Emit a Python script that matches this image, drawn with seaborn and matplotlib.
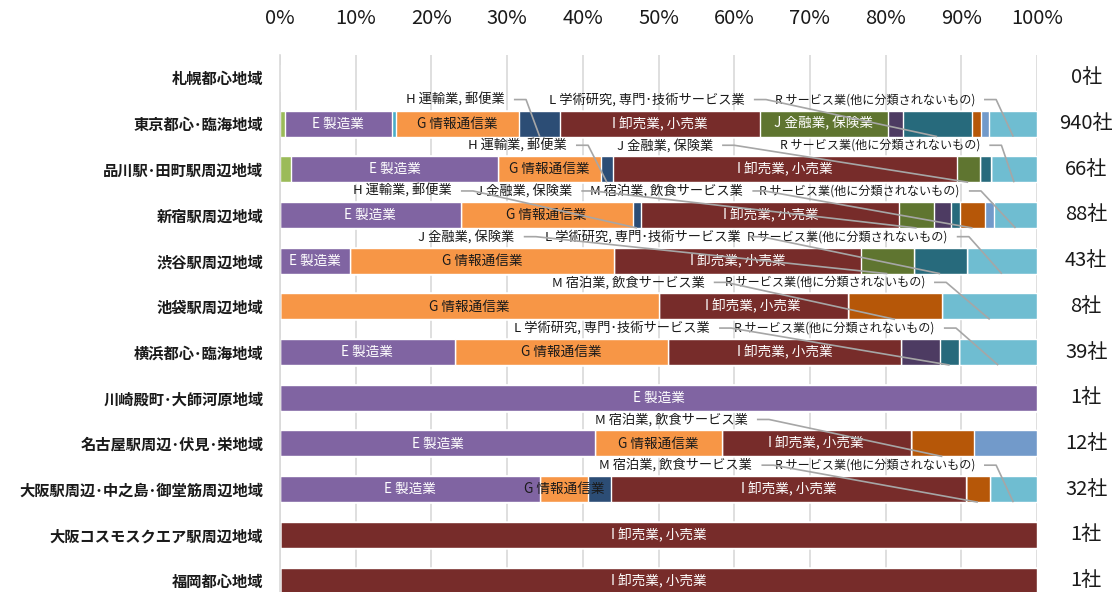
import numpy as np
import pandas as pd
import matplotlib
matplotlib.use("Agg")
import matplotlib.pyplot as plt
import seaborn as sns

sns.set_theme(style="white")
plt.rcParams["font.family"] = ["Noto Sans CJK JP", "DejaVu Sans"]

# ---- data: number of companies by region and industry ----
regions = [
    "札幌都心地域",
    "東京都心･臨海地域",
    "品川駅･田町駅周辺地域",
    "新宿駅周辺地域",
    "渋谷駅周辺地域",
    "池袋駅周辺地域",
    "横浜都心･臨海地域",
    "川崎殿町･大師河原地域",
    "名古屋駅周辺･伏見･栄地域",
    "大阪駅周辺･中之島･御堂筋周辺地域",
    "大阪コスモスクエア駅周辺地域",
    "福岡都心地域",
]

industries = [
    "D 建設業",
    "E 製造業",
    "F 電気･ガス･熱供給･水道業",
    "G 情報通信業",
    "H 運輸業, 郵便業",
    "I 卸売業, 小売業",
    "J 金融業, 保険業",
    "K 不動産業, 物品賃貸業",
    "L 学術研究, 専門･技術サービス業",
    "M 宿泊業, 飲食サービス業",
    "N 生活関連サービス業, 娯楽業",
    "R サービス業(他に分類されないもの)",
]

#                 D    E   F    G   H    I    J   K   L   M   N   R
sapporo      = [  0,   0, 0,   0,  0,   0,   0,  0,  0,  0,  0,  0]
tokyo        = [  6, 133, 5, 153, 51, 248, 159, 18, 86, 12, 10, 59]
shinagawa    = [  1,  18, 0,   9,  1,  30,   2,  0,  1,  0,  0,  4]
shinjuku     = [  0,  21, 0,  20,  1,  30,   4,  2,  1,  3,  1,  5]
shibuya      = [  0,   4, 0,  15,  0,  14,   3,  0,  3,  0,  0,  4]
ikebukuro    = [  0,   0, 0,   4,  0,   2,   0,  0,  0,  1,  0,  1]
yokohama     = [  0,   9, 0,  11,  0,  12,   0,  2,  1,  0,  0,  4]
kawasaki     = [  0,   1, 0,   0,  0,   0,   0,  0,  0,  0,  0,  0]
nagoya       = [  0,   5, 0,   2,  0,   3,   0,  0,  0,  1,  1,  0]
osaka        = [  0,  11, 0,   2,  1,  15,   0,  0,  0,  1,  0,  2]
osaka_cosmo  = [  0,   0, 0,   0,  0,   1,   0,  0,  0,  0,  0,  0]
fukuoka      = [  0,   0, 0,   0,  0,   1,   0,  0,  0,  0,  0,  0]

counts = np.array([sapporo, tokyo, shinagawa, shinjuku, shibuya, ikebukuro,
                   yokohama, kawasaki, nagoya, osaka, osaka_cosmo, fukuoka],
                  dtype=float)

colors = ["#9BBB59", "#8064A2", "#4BACC6", "#F79646", "#2C4D75", "#772C2A",
          "#5F7530", "#4D3B62", "#276A7C", "#B65708", "#729ACA", "#6FBDD1"]
label_colors = {"G": "#1a1a1a"}

# labels drawn inside a segment (by industry letter)
inside_labels = {
    1: ["E", "G", "I", "J"], 2: ["E", "G", "I"], 3: ["E", "G", "I"],
    4: ["E", "G", "I"], 5: ["G", "I"], 6: ["E", "G", "I"], 7: ["E"],
    8: ["E", "G", "I"], 9: ["E", "G", "I"], 10: ["I"], 11: ["I"],
}
# callout labels above a bar: (industry letter, right edge of the text in %)
callouts = {
    1: [("H", 29.7), ("L", 61.4), ("R", 91.8)],
    2: [("H", 37.9), ("J", 57.2), ("R", 92.5)],
    3: [("H", 22.7), ("J", 38.6), ("M", 61.2), ("R", 89.8)],
    4: [("J", 31.0), ("L", 60.8), ("R", 88.2)],
    5: [("M", 56.1), ("R", 85.2)],
    6: [("L", 56.8), ("R", 86.5)],
    8: [("M", 61.8)],
    9: [("M", 62.4), ("R", 91.8)],
}
callout_size = {"R": 8.7}

totals = counts.sum(axis=1)
share = np.divide(counts, totals[:, None], out=np.zeros_like(counts),
                  where=totals[:, None] > 0) * 100
cum = np.cumsum(share, axis=1)
letters = [name.split()[0] for name in industries]

# ---- figure ----
fig = plt.figure(figsize=(11.2, 5.92), dpi=100)
ax = fig.add_axes([0.25, 0.0, 0.6759, 0.9071])

BAR_H = 0.57
df = pd.DataFrame(cum, columns=industries)
df["region"] = regions
# stacked bars: draw cumulative totals from the last industry to the first
for j in range(len(industries) - 1, -1, -1):
    sns.barplot(data=df, x=industries[j], y="region", order=regions,
                orient="h", color=colors[j], saturation=1, width=BAR_H,
                errorbar=None, ax=ax, zorder=2)

ax.set_xlim(0, 100)
ax.set_ylim(len(regions) - 0.75, -0.5)
ax.set_xlabel("")
ax.set_ylabel("")

ax.xaxis.tick_top()
ax.set_xticks(np.arange(0, 101, 10))
ax.set_xticklabels([f"{v}%" for v in range(0, 101, 10)], fontsize=14.5)
ax.tick_params(axis="x", length=0, pad=19, colors="#1a1a1a")
ax.tick_params(axis="y", length=0, pad=12, labelsize=11)
for t in ax.get_yticklabels():
    t.set_fontweight("bold")
    t.set_color("#1a1a1a")

ax.grid(axis="x", color="#D9D9D9", linewidth=1.2, zorder=0)
ax.set_axisbelow(True)
for side in ["top", "right", "bottom"]:
    ax.spines[side].set_visible(False)
ax.spines["left"].set_color("#D9D9D9")
ax.spines["left"].set_linewidth(1.2)

# labels inside segments
for i, lets in inside_labels.items():
    for L in lets:
        j = letters.index(L)
        left = cum[i, j] - share[i, j]
        xc = left + share[i, j] / 2
        ax.text(xc, i, industries[j], ha="center", va="center",
                fontsize=9.8, color=label_colors.get(L, "white"), zorder=5)

# callout labels with leader lines
for i, items in callouts.items():
    y_text = i - 0.525
    for L, xr in items:
        j = letters.index(L)
        left = cum[i, j] - share[i, j]
        xc = left + share[i, j] / 2
        ax.text(xr, y_text, industries[j], ha="right", va="center",
                fontsize=callout_size.get(L, 9.5), color="#1a1a1a",
                zorder=6, clip_on=False)
        xs = [xr + 1.2, xr + 2.8, xc]
        ys = [y_text, y_text, i + BAR_H / 2]
        ax.plot(xs, ys, color="#A6A6A6", linewidth=1.2, zorder=7,
                solid_capstyle="butt")

# company totals on the right
for i, tot in enumerate(totals):
    ax.text(106.5, i, f"{int(tot)}社", ha="center", va="center",
            fontsize=14.5, color="#1a1a1a", clip_on=False)

fig.savefig("out.png", dpi=100)
